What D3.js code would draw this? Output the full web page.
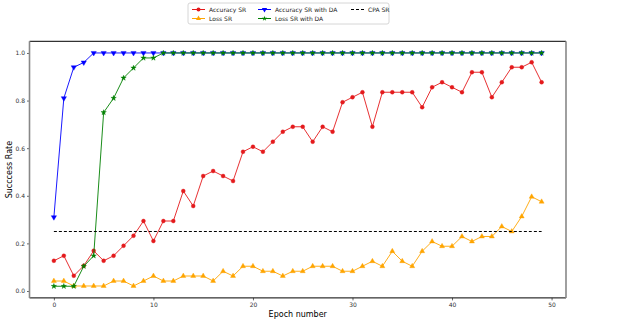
<!DOCTYPE html>
<html><head><meta charset="utf-8">
<script src="https://cdn.jsdelivr.net/npm/d3@7"></script>
<style>
body{margin:0;background:#fff;}
text{font-family:"DejaVu Sans",sans-serif;}
</style></head>
<body><svg id="c" width="634" height="328"></svg>
<script>
const epochs = d3.range(0, 50);
const accuracySR = [0.127,0.148,0.064,0.106,0.169,0.127,0.148,0.19,0.232,0.294,0.21,0.294,0.294,0.42,0.357,0.483,0.504,0.483,0.462,0.585,0.606,0.585,0.627,0.669,0.69,0.69,0.627,0.69,0.669,0.793,0.814,0.835,0.69,0.835,0.835,0.835,0.835,0.772,0.856,0.877,0.856,0.835,0.919,0.919,0.814,0.877,0.94,0.94,0.961,0.877];
const lossSR = [0.042,0.042,0.021,0.021,0.021,0.021,0.042,0.042,0.021,0.042,0.063,0.042,0.042,0.063,0.063,0.063,0.042,0.083,0.063,0.104,0.104,0.083,0.083,0.063,0.083,0.083,0.104,0.104,0.104,0.083,0.083,0.104,0.125,0.104,0.167,0.125,0.104,0.167,0.208,0.188,0.188,0.229,0.208,0.229,0.229,0.271,0.25,0.313,0.396,0.375];
const accuracySRDA = [0.31,0.81,0.94,0.96,1,1,1,1,1,1,1,1,1,1,1,1,1,1,1,1,1,1,1,1,1,1,1,1,1,1,1,1,1,1,1,1,1,1,1,1,1,1,1,1,1,1,1,1,1,1];
const lossSRDA = [0.02,0.02,0.02,0.104,0.148,0.75,0.81,0.895,0.937,0.979,0.979,1,1,1,1,1,1,1,1,1,1,1,1,1,1,1,1,1,1,1,1,1,1,1,1,1,1,1,1,1,1,1,1,1,1,1,1,1,1,1];
const cpaSR = epochs.map(()=>0.25);
const xTicks = [0,10,20,30,40,50];
const yTicks = [0,0.2,0.4,0.6,0.8,1.0];

const svg = d3.select("#c");
const L=29.5, R=566, T=41.3, B=297.9;
const x = d3.scaleLinear().domain([-2.45,51.45]).range([L,R]);
const y = d3.scaleLinear().domain([-0.029,1.049]).range([B,T]);

const gx = svg.append("g").attr("transform",`translate(0,${B})`)
  .call(d3.axisBottom(x).tickValues(xTicks).tickFormat(d3.format("d")).tickSize(2.5).tickPadding(2));
const gy = svg.append("g").attr("transform",`translate(${L},0)`)
  .call(d3.axisLeft(y).tickValues(yTicks).tickFormat(d3.format(".1f")).tickSize(2.5).tickPadding(2));
[gx,gy].forEach(g=>{g.select(".domain").remove();g.selectAll("text").attr("font-size",6).attr("fill","#333");g.selectAll("line").attr("stroke","#000").attr("stroke-width",0.6);});

svg.append("text").attr("x",(L+R)/2).attr("y",317).attr("text-anchor","middle").attr("font-size",8).text("Epoch number");
svg.append("text").attr("transform",`translate(12,${(T+B)/2}) rotate(-90)`).attr("text-anchor","middle").attr("font-size",8).text("Succcess Rate");

const line = d3.line().x((d,i)=>x(epochs[i])).y(d=>y(d));
const series = [
  {name:"Accuracy SR", data:accuracySR, color:"#e41a1c", sym:d3.symbolCircle, rot:0, size:12},
  {name:"Loss SR", data:lossSR, color:"#ffa500", sym:d3.symbolTriangle, rot:0, size:11},
  {name:"Accuracy SR with DA", data:accuracySRDA, color:"#0000ff", sym:d3.symbolTriangle, rot:180, size:12},
  {name:"Loss SR with DA", data:lossSRDA, color:"#008000", sym:d3.symbolStar, rot:0, size:9},
];
series.forEach(s=>{
  svg.append("path").attr("d",line(s.data)).attr("fill","none").attr("stroke",s.color).attr("stroke-width",0.9);
  svg.append("g").selectAll("path").data(s.data).join("path")
    .attr("transform",(d,i)=>`translate(${x(epochs[i])},${y(d)}) rotate(${s.rot})`)
    .attr("d",d3.symbol(s.sym,s.size)).attr("fill",s.color).attr("stroke",s.color).attr("stroke-width",0.4);
});
svg.append("path").attr("d",line(cpaSR)).attr("fill","none").attr("stroke","#000").attr("stroke-width",1).attr("stroke-dasharray","3,2");

svg.append("line").attr("x1",L).attr("x2",R).attr("y1",T).attr("y2",T).attr("stroke","#000").attr("stroke-width",1);
svg.append("line").attr("x1",L).attr("x2",R).attr("y1",B).attr("y2",B).attr("stroke","#000").attr("stroke-width",1);
svg.append("line").attr("x1",L).attr("x2",L).attr("y1",T).attr("y2",B).attr("stroke","#888").attr("stroke-width",1.6);
svg.append("line").attr("x1",R).attr("x2",R).attr("y1",T).attr("y2",B).attr("stroke","#888").attr("stroke-width",1.6);

const lg = svg.append("g");
lg.append("rect").attr("x",188).attr("y",3).attr("width",201).attr("height",21).attr("fill","#fff").attr("stroke","#ccc").attr("stroke-width",0.8).attr("rx",2);
const entries = [
  {s:series[0], cx:192, cy:9.5},{s:series[1], cx:192, cy:18.5},
  {s:series[2], cx:258, cy:9.5},{s:series[3], cx:258, cy:18.5},
  {s:{name:"CPA SR",color:"#000",dash:true}, cx:351, cy:9.5}
];
entries.forEach(e=>{
  lg.append("line").attr("x1",e.cx).attr("x2",e.cx+13).attr("y1",e.cy).attr("y2",e.cy).attr("stroke",e.s.color).attr("stroke-width",1)
    .attr("stroke-dasharray",e.s.dash?"3,2":null);
  if(!e.s.dash) lg.append("path").attr("transform",`translate(${e.cx+6.5},${e.cy}) rotate(${e.s.rot})`).attr("d",d3.symbol(e.s.sym,e.s.size)).attr("fill",e.s.color);
  lg.append("text").attr("x",e.cx+17).attr("y",e.cy+2.2).attr("font-size",6).attr("fill","#222").text(e.s.name);
});
</script></body></html>
